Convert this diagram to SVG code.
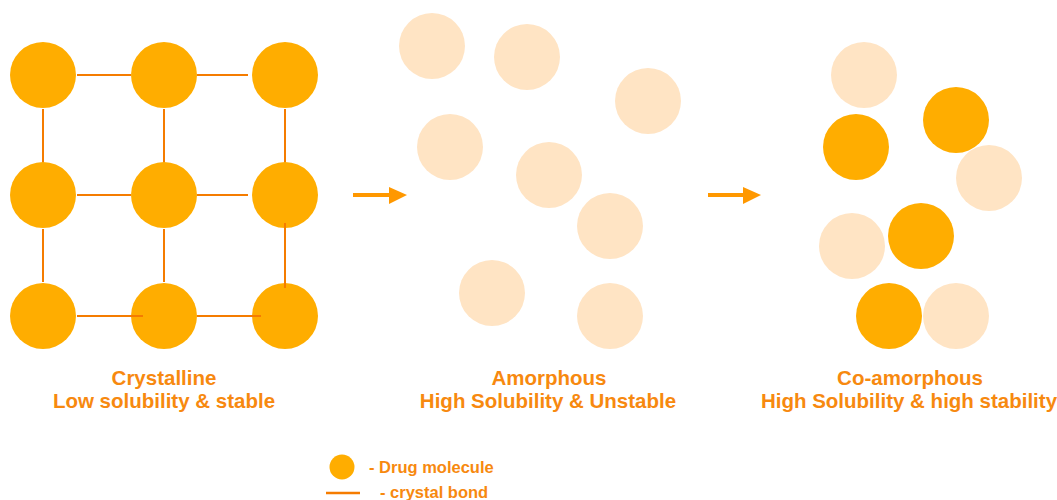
<svg xmlns="http://www.w3.org/2000/svg" width="1057" height="500" viewBox="0 0 1057 500">
<style>
.drug{fill:#FFAD00}
.pale{fill:#FFE4C4}
.bond{stroke:#F57C00;stroke-width:2;fill:none}
.arrow{stroke:#FF9800;stroke-width:4;fill:none}
.head{fill:#FF9800}
.lbl{font-family:"Liberation Sans",Arial,sans-serif;font-weight:bold;fill:#F7890F;text-anchor:middle;font-size:20.5px}
.leg{font-family:"Liberation Sans",Arial,sans-serif;font-weight:bold;fill:#F7890F;font-size:16.5px}
</style>
<rect width="1057" height="500" fill="#FFFFFF"/>
<g id="crystal-bonds">
<line class="bond" x1="77" y1="75" x2="131" y2="75"/>
<line class="bond" x1="197" y1="75" x2="248" y2="75"/>
<line class="bond" x1="77" y1="195" x2="131" y2="195"/>
<line class="bond" x1="197" y1="195" x2="248" y2="195"/>
<line class="bond" x1="77" y1="316" x2="143" y2="316"/>
<line class="bond" x1="197" y1="316" x2="261" y2="316"/>
<line class="bond" x1="43" y1="109" x2="43" y2="163"/>
<line class="bond" x1="164" y1="109" x2="164" y2="163"/>
<line class="bond" x1="285" y1="109" x2="285" y2="163"/>
<line class="bond" x1="43" y1="229" x2="43" y2="282"/>
<line class="bond" x1="164" y1="229" x2="164" y2="282"/>
</g>
<g id="crystalline">
<circle class="drug" cx="43" cy="75" r="33"/>
<circle class="drug" cx="164" cy="75" r="33"/>
<circle class="drug" cx="285" cy="75" r="33"/>
<circle class="drug" cx="43" cy="195" r="33"/>
<circle class="drug" cx="164" cy="195" r="33"/>
<circle class="drug" cx="285" cy="195" r="33"/>
<circle class="drug" cx="43" cy="316" r="33"/>
<circle class="drug" cx="164" cy="316" r="33"/>
<circle class="drug" cx="285" cy="316" r="33"/>
</g>
<g id="crystal-bonds-over">
<line class="bond" x1="131" y1="316" x2="143" y2="316"/>
<line class="bond" x1="252" y1="316" x2="261" y2="316"/>
<line class="bond" x1="285" y1="223" x2="285" y2="288"/>
</g>
<g id="connectors">
<line class="arrow" x1="353" y1="195" x2="391" y2="195"/>
<polygon class="head" points="389,187 407,195 389,204"/>
<line class="arrow" x1="708" y1="195" x2="745" y2="195"/>
<polygon class="head" points="743,187 761,195 743,204"/>
</g>
<g id="amorphous">
<circle class="pale" cx="432" cy="46" r="33"/>
<circle class="pale" cx="527" cy="57" r="33"/>
<circle class="pale" cx="648" cy="101" r="33"/>
<circle class="pale" cx="450" cy="147" r="33"/>
<circle class="pale" cx="549" cy="175" r="33"/>
<circle class="pale" cx="610" cy="226" r="33"/>
<circle class="pale" cx="492" cy="293" r="33"/>
<circle class="pale" cx="610" cy="316" r="33"/>
</g>
<g id="co-amorphous">
<circle class="pale" cx="864" cy="75" r="33"/>
<circle class="pale" cx="989" cy="178" r="33"/>
<circle class="drug" cx="956" cy="120" r="33"/>
<circle class="drug" cx="856" cy="147" r="33"/>
<circle class="pale" cx="852" cy="246" r="33"/>
<circle class="drug" cx="921" cy="236" r="33"/>
<circle class="drug" cx="889" cy="316" r="33"/>
<circle class="pale" cx="956" cy="316" r="33"/>
</g>
<g id="labels">
<text class="lbl" x="164" y="385">Crystalline</text>
<text class="lbl" x="164" y="408">Low solubility &amp; stable</text>
<text class="lbl" x="549" y="385">Amorphous</text>
<text class="lbl" x="548" y="408">High Solubility &amp; Unstable</text>
<text class="lbl" x="910" y="385">Co-amorphous</text>
<text class="lbl" x="909" y="408">High Solubility &amp; high stability</text>
</g>
<g id="legend">
<circle class="drug" cx="342" cy="467" r="12.5"/>
<text class="leg" x="369" y="473">- Drug molecule</text>
<line x1="326" y1="493" x2="360" y2="493" stroke="#F57C00" stroke-width="2.5"/>
<text class="leg" x="380" y="498">- crystal bond</text>
</g>
</svg>
